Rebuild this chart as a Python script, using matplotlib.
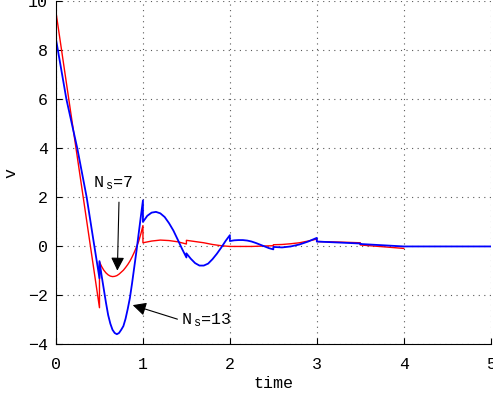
import matplotlib
matplotlib.use('Agg')
import matplotlib.pyplot as plt

t_7 = [0.0, 0.5,
       0.5, 0.525, 0.55, 0.575, 0.6, 0.625, 0.65, 0.675, 0.7, 0.725, 0.75,
       0.775, 0.8, 0.825, 0.85, 0.875, 0.9, 0.925, 0.95, 0.975, 1.0,
       1.0, 1.1, 1.2, 1.3, 1.4, 1.5,
       1.5, 1.6, 1.7, 1.8, 1.9, 2.0, 2.25, 2.5,
       2.5, 2.6, 2.7, 2.8, 2.9, 3.0,
       3.0, 3.25, 3.5,
       3.5, 3.75, 4.0]
v_7 = [9.55, -2.5,
       -0.63, -0.82, -0.97, -1.08, -1.16, -1.21, -1.23, -1.22, -1.19, -1.13, -1.05,
       -0.97, -0.86, -0.74, -0.6, -0.43, -0.24, -0.03, 0.2, 0.5, 0.85,
       0.15, 0.22, 0.26, 0.24, 0.19, 0.1,
       0.25, 0.2, 0.15, 0.08, 0.03, 0.0, 0.0, 0.03,
       0.07, 0.08, 0.11, 0.15, 0.22, 0.3,
       0.2, 0.18, 0.15,
       0.06, -0.01, -0.08]

t_13 = [0.0, 0.12, 0.245, 0.353, 0.43, 0.5,
        0.5, 0.525, 0.55, 0.575, 0.6, 0.625, 0.65, 0.675, 0.7, 0.725, 0.75,
        0.775, 0.8, 0.825, 0.85, 0.875, 0.9, 0.925, 0.95, 0.975, 1.0,
        1.0, 1.05, 1.1, 1.15, 1.2, 1.25, 1.3, 1.35, 1.4, 1.45, 1.5,
        1.5, 1.55, 1.6, 1.65, 1.7, 1.75, 1.8, 1.85, 1.9, 1.95, 2.0,
        2.0, 2.05, 2.1, 2.15, 2.2, 2.25, 2.3, 2.35, 2.4, 2.45, 2.5,
        2.5, 2.6, 2.7, 2.8, 2.9, 3.0,
        3.0, 3.25, 3.5,
        3.5, 3.75, 4.0, 5.0]
v_13 = [8.45, 6.0, 4.0, 2.0, 0.26, -1.3,
        -0.6, -1.2, -1.75, -2.3, -2.8, -3.15, -3.4, -3.53, -3.58, -3.53, -3.4,
        -3.25, -2.95, -2.55, -2.1, -1.5, -0.85, -0.2, 0.5, 1.2, 1.88,
        1.0, 1.25, 1.38, 1.41, 1.35, 1.2, 0.95, 0.65, 0.28, -0.1, -0.45,
        -0.28, -0.5, -0.68, -0.78, -0.78, -0.7, -0.52, -0.3, -0.05, 0.22, 0.46,
        0.22, 0.25, 0.26, 0.26, 0.24, 0.2, 0.14, 0.07, 0.0, -0.07, -0.12,
        -0.02, -0.04, 0.0, 0.08, 0.2, 0.35,
        0.2, 0.16, 0.12,
        0.1, 0.05, 0.0, 0.0]

xticks = [0, 1, 2, 3, 4, 5]
yticks = [-4, -2, 0, 2, 4, 6, 8, 10]

plt.rcParams['font.family'] = ['Liberation Mono', 'DejaVu Sans Mono']
plt.rcParams['mathtext.fontset'] = 'custom'
plt.rcParams['mathtext.rm'] = 'Liberation Mono'
plt.rcParams['mathtext.it'] = 'Liberation Mono'
plt.rcParams['font.size'] = 12

fig = plt.figure(figsize=(4.93, 3.99), dpi=100)
ax = fig.add_axes([0.1136, 0.1366, 0.8817, 0.8601])

ax.plot(t_7, v_7, color='#ff0000', lw=1.0)
ax.plot(t_13, v_13, color='#0000ff', lw=1.3)

ax.set_xlim(0, 5)
ax.set_ylim(-4, 10)
ax.set_xticks(xticks)
ax.set_yticks(yticks)
ax.tick_params(direction='in', length=4, width=0.8)
ax.tick_params(axis='x', pad=9)
ax.tick_params(axis='y', pad=6)
ax.spines['top'].set_visible(False)
ax.spines['right'].set_visible(False)
ax.grid(True, color='0.35', linestyle=(0, (1, 4)), lw=0.8)

ax.set_xlabel('time', labelpad=3)
ax.set_ylabel('v', labelpad=7)

arrow = dict(arrowstyle='-|>', color='k', lw=0.8, mutation_scale=20)
ax.annotate('', xy=(0.705, -1.1), xytext=(0.725, 1.92), arrowprops=arrow)
ax.annotate('', xy=(0.852, -2.36), xytext=(1.427, -3.0), arrowprops=arrow)
ax.text(0.43, 2.42, 'N$_{\\ \\mathrm{s}}$=7', ha='left', va='baseline')
ax.text(1.44, -3.18, 'N$_{\\ \\mathrm{s}}$=13', ha='left', va='baseline')

fig.savefig('out.png', dpi=100)
